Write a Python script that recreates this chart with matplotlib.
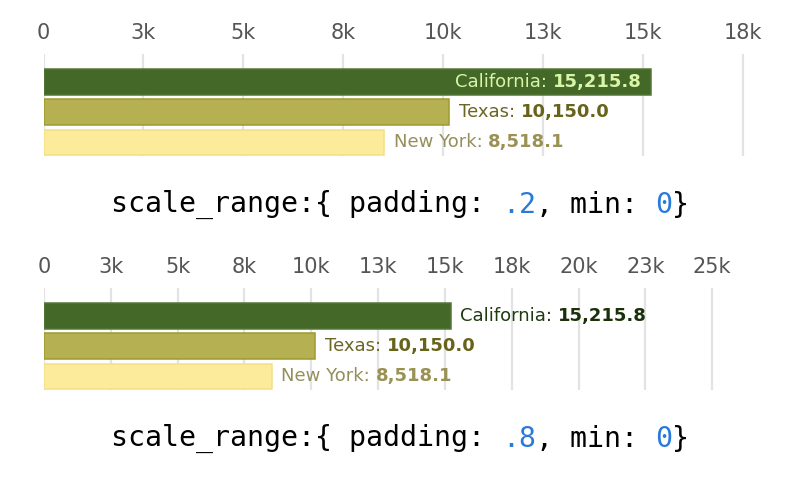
import matplotlib
matplotlib.use("Agg")
import matplotlib.pyplot as plt

# data
states = ["California", "Texas", "New York"]
values = [15215.8, 10150.0, 8518.1]
paddings = [0.2, 0.8]
padding_labels = [".2", ".8"]
tick_step = 2500
top_tick_labels = ["0", "3k", "5k", "8k", "10k", "13k", "15k", "18k"]
bottom_tick_labels = ["0", "3k", "5k", "8k", "10k", "13k", "15k", "18k",
                      "20k", "23k", "25k"]

bar_colors = ["#436828", "#b5b152", "#fdeb9c"]
edge_colors = ["#55773a", "#9f9a2c", "#f3df84"]
name_colors = ["#1f3a10", "#6b6623", "#958f5c"]
value_colors = ["#1a3009", "#68631a", "#9a9254"]
inside_color = "#d8f5a8"

W, H = 800, 494
fig = plt.figure(figsize=(W / 100, H / 100), dpi=100, facecolor="w")


def px_axes(left, top, right, bottom):
    return fig.add_axes([left / W, 1 - bottom / H, (right - left) / W,
                         (bottom - top) / H])


def draw_chart(ax, pad, tick_labels):
    xmax = max(values) * (1 + pad)
    ax.barh(range(len(values)), values, height=0.85, color=bar_colors,
            edgecolor=edge_colors, linewidth=1.1, zorder=2)
    ax.set_xlim(0, xmax)
    ax.set_ylim(2.45, -0.93)
    ax.set_xticks([i * tick_step for i in range(len(tick_labels))])
    ax.set_xticklabels(tick_labels)
    ax.xaxis.tick_top()
    ax.tick_params(axis="x", length=0, pad=8, labelsize=15,
                   labelcolor="#555555")
    ax.set_yticks([])
    ax.grid(axis="x", color="#e3e3e3", linewidth=1.6, zorder=0)
    for s in ax.spines.values():
        s.set_visible(False)

    renderer = fig.canvas.get_renderer()
    ax_right = ax.get_window_extent(renderer).x1
    for i, (name, v) in enumerate(zip(states, values)):
        # outside the bar unless it runs past the axis
        t1 = ax.annotate(name + ": ", xy=(v, i), xytext=(7, 0),
                         textcoords="offset points", ha="left", va="center",
                         fontsize=13, color=name_colors[i])
        t2 = ax.annotate(f"{v:,.1f}", xy=(1, 0.5), xycoords=t1, ha="left",
                         va="center", fontsize=13, fontweight="bold",
                         color=value_colors[i])
        fig.canvas.draw()
        if t2.get_window_extent(renderer).x1 > ax_right:
            t1.remove()
            t2.remove()
            v2 = ax.annotate(f"{v:,.1f}", xy=(v, i), xytext=(-7, 0),
                             textcoords="offset points", ha="right",
                             va="center", fontsize=13, fontweight="bold",
                             color=inside_color, zorder=3)
            ax.annotate(name + ": ", xy=(0, 0.5), xycoords=v2, ha="right",
                        va="center", fontsize=13, color=inside_color,
                        zorder=3)


def code_line(y_px, pad_label):
    pieces = [("scale_range:{ padding: ", "black"), (pad_label, "#2a7ad8"),
              (", min: ", "black"), ("0", "#2a7ad8"), ("}", "black")]
    first = fig.text(0, 1 - y_px / H, pieces[0][0], color=pieces[0][1],
                     fontsize=20.3, family="DejaVu Sans Mono", va="baseline")
    prev = first
    last = first
    for txt, col in pieces[1:]:
        last = plt.annotate(txt, xy=(1, 0), xycoords=prev, ha="left",
                            va="bottom", color=col, fontsize=20.3,
                            family="DejaVu Sans Mono",
                            annotation_clip=False)
        prev = last
    fig.canvas.draw()
    r = fig.canvas.get_renderer()
    total = last.get_window_extent(r).x1 - first.get_window_extent(r).x0
    first.set_x((W / 2 - total / 2) / W)


ax_top = px_axes(43.5, 54, 773, 156)
draw_chart(ax_top, paddings[0], top_tick_labels)
ax_bot = px_axes(44, 288, 776, 390)
draw_chart(ax_bot, paddings[1], bottom_tick_labels)

code_line(212, padding_labels[0])
code_line(446, padding_labels[1])

fig.savefig("out.png", dpi=100, facecolor="w")
